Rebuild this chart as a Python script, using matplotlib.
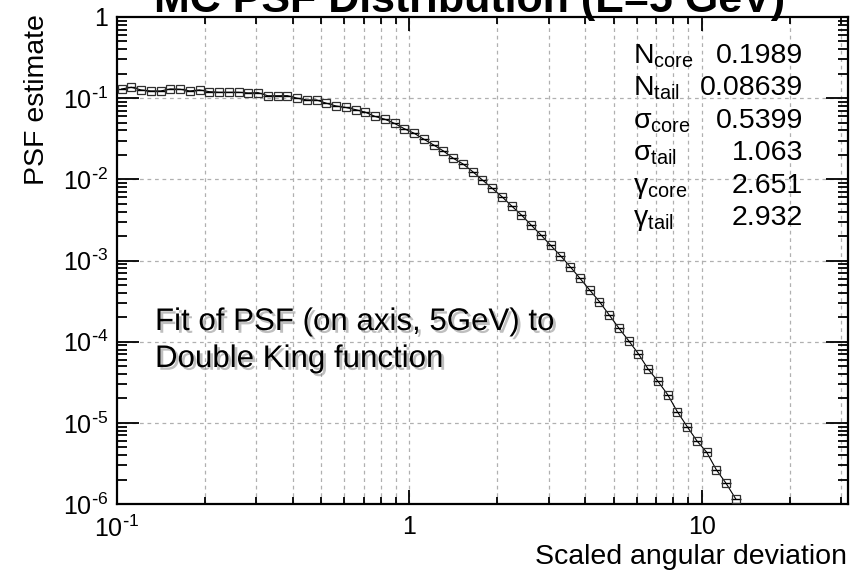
import numpy as np
import matplotlib
matplotlib.use("Agg")
import matplotlib.pyplot as plt
import matplotlib.patheffects as pe
from matplotlib.ticker import FixedLocator, FixedFormatter, NullFormatter

plt.rcParams["font.family"] = ["Liberation Sans", "DejaVu Sans"]

# ============================================================
# DATA
# ============================================================

scaled_dev = [
    0.1039, 0.1122, 0.1212, 0.1308, 0.1413, 0.1526, 0.1648, 0.1778, 0.1920, 0.2074,
    0.2239, 0.2418, 0.2610, 0.2818, 0.3043, 0.3286, 0.3548, 0.3831, 0.4137, 0.4467,
    0.4823, 0.5208, 0.5623, 0.6072, 0.6556, 0.7079, 0.7644, 0.8254, 0.8913, 0.9624,
    1.039, 1.122, 1.212, 1.308, 1.413, 1.526, 1.648, 1.778, 1.920, 2.074,
    2.239, 2.418, 2.610, 2.818, 3.043, 3.286, 3.548, 3.831, 4.137, 4.467,
    4.823, 5.208, 5.623, 6.072, 6.556, 7.079, 7.644, 8.254, 8.913, 9.624,
    10.39, 11.22, 12.12, 13.08,
]

psf_est = [
    0.1298, 0.1362, 0.1262, 0.1227, 0.1227, 0.1298, 0.1287, 0.1227, 0.1262, 0.1202,
    0.1182, 0.1182, 0.1182, 0.1159, 0.1169, 0.1071, 0.1071, 0.1073, 0.1000, 0.0950,
    0.0950, 0.0866, 0.0801, 0.0768, 0.0722, 0.0671, 0.0595, 0.0550, 0.0488, 0.0420,
    0.0370, 0.0312, 0.0265, 0.0224, 0.0182, 0.0155, 0.01244, 0.00983, 0.00777, 0.00612,
    0.00470, 0.00364, 0.00274, 0.00207, 0.00154, 0.00115, 8.41e-4, 6.05e-4, 4.34e-4, 3.12e-4,
    2.14e-4, 1.47e-4, 1.03e-4, 7.1e-5, 4.6e-5, 3.26e-5, 2.23e-5, 1.37e-5, 9.0e-6, 6.0e-6,
    4.36e-6, 2.64e-6, 1.79e-6, 1.15e-6,
]

param_names = [
    "N$_\\mathregular{core}$", "N$_\\mathregular{tail}$",
    "σ$_\\mathregular{core}$", "σ$_\\mathregular{tail}$",
    "γ$_\\mathregular{core}$", "γ$_\\mathregular{tail}$",
]
param_values = ["0.1989", "0.08639", "0.5399", "1.063", "2.651", "2.932"]

x_major = [0.1, 1, 10]
x_major_labels = ["$\\mathregular{10^{\\text{-}1}}$", "1", "10"]
x_minor = [0.2, 0.3, 0.4, 0.5, 0.6, 0.7, 0.8, 0.9, 2, 3, 4, 5, 6, 7, 8, 9, 20, 30]

y_major = [1e-6, 1e-5, 1e-4, 1e-3, 1e-2, 1e-1, 1]
y_major_labels = ["$\\mathregular{10^{\\text{-}6}}$", "$\\mathregular{10^{\\text{-}5}}$",
                  "$\\mathregular{10^{\\text{-}4}}$", "$\\mathregular{10^{\\text{-}3}}$",
                  "$\\mathregular{10^{\\text{-}2}}$", "$\\mathregular{10^{\\text{-}1}}$", "1"]
y_minor = [m * d for d in y_major[:-1] for m in range(2, 10)]

# ============================================================
# FIGURE
# ============================================================

W, H = 861, 573
fig = plt.figure(figsize=(W / 100, H / 100), dpi=100)
ax = fig.add_axes([116.7 / W, 1 - 504 / H, (848 - 116.7) / W, (504 - 17) / H])

ax.set_xscale("log")
ax.set_yscale("log")
ax.set_xlim(0.1, 10 ** 1.5)
ax.set_ylim(1e-6, 1)

# grid: all x ticks, y decades only
grid_style = dict(color="#b0b0b0", lw=0.9, ls=(0, (3, 3)), zorder=0)
for xv in x_major[1:] + x_minor:
    ax.axvline(xv, **grid_style)
for yv in y_major[1:-1]:
    ax.axhline(yv, **grid_style)

x = np.array(scaled_dev)
y = np.array(psf_est)

# bin edges from neighbouring centres (geometric means)
mid = np.sqrt(x[:-1] * x[1:])
lo = np.concatenate([[x[0] ** 2 / mid[0]], mid])
hi = np.concatenate([mid, [x[-1] ** 2 / mid[-1]]])

# fit line
ax.plot(x, y, color="black", lw=0.8, zorder=2)

# data points
ax.errorbar(x, y, xerr=[x - lo, hi - x], fmt="s", ms=6.3, mfc="none",
            mec="#303030", mew=0.9, ecolor="black", elinewidth=1.0,
            capsize=0, zorder=3)

# ticks
ax.xaxis.set_major_locator(FixedLocator(x_major))
ax.xaxis.set_major_formatter(FixedFormatter(x_major_labels))
ax.xaxis.set_minor_locator(FixedLocator(x_minor))
ax.xaxis.set_minor_formatter(NullFormatter())
ax.yaxis.set_major_locator(FixedLocator(y_major))
ax.yaxis.set_major_formatter(FixedFormatter(y_major_labels))
ax.yaxis.set_minor_locator(FixedLocator(y_minor))
ax.yaxis.set_minor_formatter(NullFormatter())

ax.tick_params(which="both", direction="in", top=True, right=True, width=1.3)
ax.tick_params(axis="x", which="major", length=10, labelsize=18, pad=8)
ax.tick_params(axis="x", which="minor", length=5)
ax.tick_params(axis="y", which="major", length=16, labelsize=18, pad=6)
ax.tick_params(axis="y", which="minor", length=7.5)

for sp in ax.spines.values():
    sp.set_linewidth(1.6)

# axis titles
fig.text(37 / W, 1 - 14 / H, "PSF estimate", rotation=90, ha="center", va="top",
         fontsize=20.5)
fig.text(847 / W, 1 - 564 / H, "Scaled angular deviation", ha="right",
         va="baseline", fontsize=20.5)

# title (cut off at the top, as in the reference)
fig.text(470 / W, 1 - 12 / H, "MC PSF Distribution (E=5 GeV)", ha="center",
         va="baseline", fontsize=31, fontweight="bold")

# fit parameters
for k, (name, val) in enumerate(zip(param_names, param_values)):
    yb = 1 - (63 + 32.4 * k) / H
    fig.text(633 / W, yb, name, ha="left", va="baseline", fontsize=20.5)
    fig.text(803 / W, yb, val, ha="right", va="baseline", fontsize=20.5)

# annotation with drop shadow
shadow = [pe.SimplePatchShadow(offset=(2, -2), shadow_rgbFace="0.5", alpha=0.5),
          pe.Normal()]
fig.text(155 / W, 1 - 330 / H, "Fit of PSF (on axis, 5GeV) to", ha="left",
         va="baseline", fontsize=22.5, path_effects=shadow)
fig.text(155 / W, 1 - 367 / H, "Double King function", ha="left",
         va="baseline", fontsize=22.5, path_effects=shadow)

fig.savefig("out.png", dpi=100)
